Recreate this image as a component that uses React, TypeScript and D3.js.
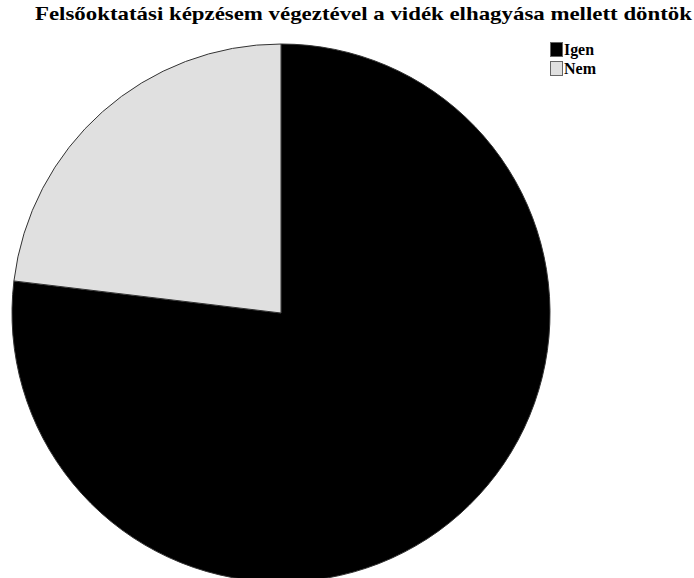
import React, { useEffect, useRef } from "react";
import * as d3 from "d3";

const categories = ["Igen", "Nem"];
const values = [76.9, 23.1];
const colors = ["#000000", "#e0e0e0"];
const title = "Felsőoktatási képzésem végeztével a vidék elhagyása mellett döntök";

const serif = "'Liberation Serif', 'Times New Roman', 'DejaVu Serif', serif";

export default function App() {
  const ref = useRef<SVGSVGElement | null>(null);

  useEffect(() => {
    const svg = d3.select(ref.current);
    svg.selectAll("*").remove();

    const width = 694;
    const height = 578;
    svg.attr("width", width).attr("height", height);

    const cx = 281;
    const cy = 313;
    const r = 269;

    const pie = d3.pie<number>().sort(null).value((d) => d);
    const arc = d3.arc<d3.PieArcDatum<number>>().innerRadius(0).outerRadius(r);

    const g = svg.append("g").attr("transform", `translate(${cx},${cy})`);
    g.selectAll("path")
      .data(pie(values))
      .enter()
      .append("path")
      .attr("d", arc)
      .attr("fill", (_, i) => colors[i])
      .attr("stroke", "#333")
      .attr("stroke-width", 1);

    svg
      .append("text")
      .attr("x", 692)
      .attr("y", 20)
      .attr("text-anchor", "end")
      .style("font-family", serif)
      .attr("font-weight", "bold")
      .attr("font-size", 19)
      .attr("textLength", 657)
      .attr("lengthAdjust", "spacingAndGlyphs")
      .text(title);

    const legend = svg.append("g").attr("transform", "translate(550,42)");
    categories.forEach((c, i) => {
      const row = legend.append("g").attr("transform", `translate(0,${i * 19})`);
      row
        .append("rect")
        .attr("x", 0.5)
        .attr("y", 0.5)
        .attr("width", 12)
        .attr("height", 14)
        .attr("fill", colors[i])
        .attr("stroke", "#666");
      row
        .append("text")
        .attr("x", 14)
        .attr("y", 13)
        .style("font-family", serif)
        .attr("font-weight", "bold")
        .attr("font-size", 16)
        .attr("textLength", i === 0 ? 30 : 32)
        .attr("lengthAdjust", "spacingAndGlyphs")
        .text(c);
    });
  }, []);

  return <svg ref={ref} style={{ position: "absolute", left: 0, top: 0 }}></svg>;
}
